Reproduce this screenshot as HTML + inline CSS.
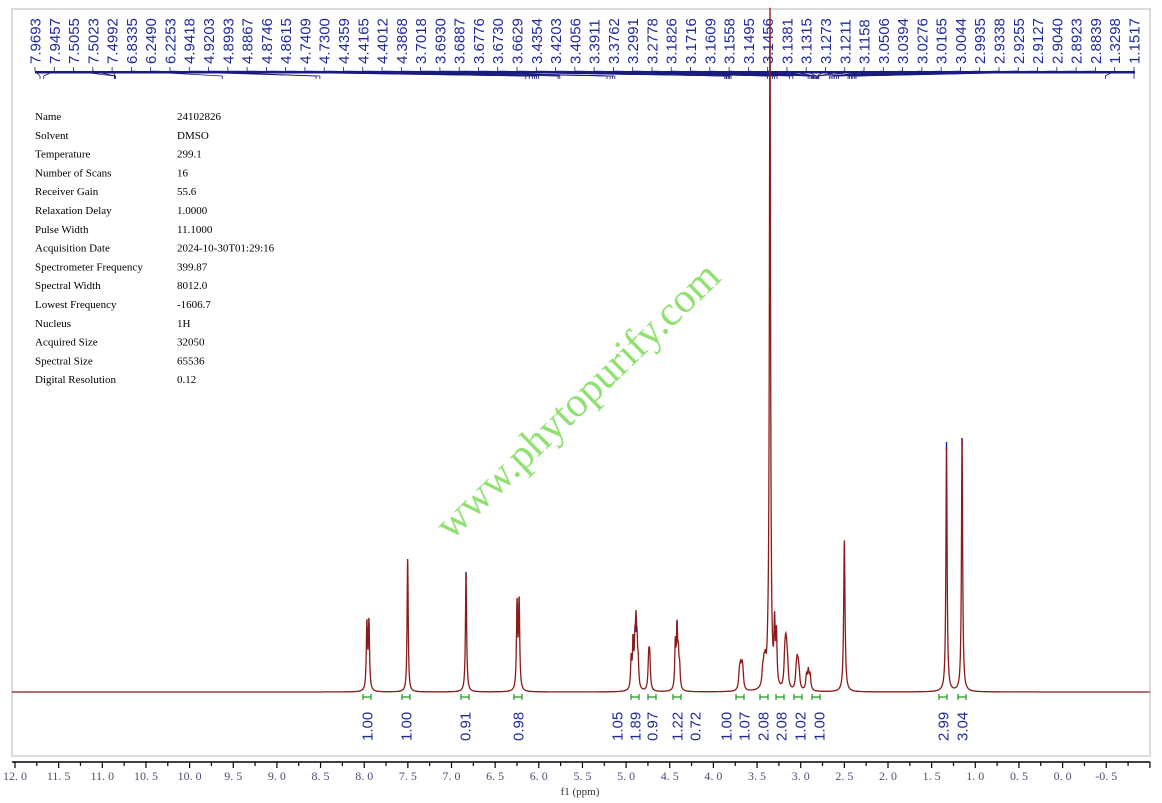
<!DOCTYPE html>
<html><head><meta charset="utf-8"><style>
html,body{margin:0;padding:0;background:#fff;width:1162px;height:803px;overflow:hidden}
svg{display:block}
.info{font-family:"Liberation Serif","Noto Serif CJK SC",serif;font-size:11px;fill:#000}
</style></head><body>
<svg id="s" width="1162" height="803" xmlns="http://www.w3.org/2000/svg">
<rect x="12" y="9" width="1138" height="747" fill="#fff" stroke="#cfcfcf" stroke-width="1.5"/>
<g id="info" class="info"></g>
<text x="0" y="0" transform="translate(587,410) rotate(-44)" text-anchor="middle" font-family="Liberation Serif,serif" font-size="42" fill="#7ddc5a" opacity="0.85">www.phytopurify.com</text>
<g id="top"></g>
<path id="spec" fill="none" stroke="#8b1a1a" stroke-width="1.3"/>
<g id="integ"></g>
<g id="axis"></g>
</svg>
<script>
const NS="http://www.w3.org/2000/svg";
function el(t,a,p,txt){const e=document.createElementNS(NS,t);for(const k in a)e.setAttribute(k,a[k]);if(txt!==undefined)e.textContent=txt;p.appendChild(e);return e;}
const X=p=>15+(12-p)*87.3;
const info=[["Name","24102826"],["Solvent","DMSO"],["Temperature","299.1"],["Number of Scans","16"],["Receiver Gain","55.6"],["Relaxation Delay","1.0000"],["Pulse Width","11.1000"],["Acquisition Date","2024-10-30T01:29:16"],["Spectrometer Frequency","399.87"],["Spectral Width","8012.0"],["Lowest Frequency","-1606.7"],["Nucleus","1H"],["Acquired Size","32050"],["Spectral Size","65536"],["Digital Resolution","0.12"]];
const gi=document.getElementById('info');
info.forEach((r,i)=>{const y=120+i*18.8;el('text',{x:35,y:y},gi,r[0]);el('text',{x:177,y:y},gi,r[1]);});
const labs="7.9693 7.9457 7.5055 7.5023 7.4992 6.8335 6.2490 6.2253 4.9418 4.9203 4.8993 4.8867 4.8746 4.8615 4.7409 4.7300 4.4359 4.4165 4.4012 4.3868 3.7018 3.6930 3.6887 3.6776 3.6730 3.6629 3.4354 3.4203 3.4056 3.3911 3.3762 3.2991 3.2778 3.1826 3.1716 3.1609 3.1558 3.1495 3.1456 3.1381 3.1315 3.1273 3.1211 3.1158 3.0506 3.0394 3.0276 3.0165 3.0044 2.9935 2.9338 2.9255 2.9127 2.9040 2.8923 2.8839 1.3298 1.1517".split(" ");
const gt=document.getElementById('top');
labs.forEach((l,i)=>{const x=35+i*19.28;
 el('text',{x:0,y:0,transform:`translate(${x+5.5},64) rotate(-90)`,'font-family':'Liberation Sans,sans-serif','font-size':'15',fill:'#1f2a9a'},gt,l);
 const px=40+(X(parseFloat(l))-X(7.9693))/(X(1.1517)-X(7.9693))*(1134-40);
 el('path',{d:`M${x} 67 L${x} 71 L${px} 76 L${px} 79`,stroke:'#1a1a80','stroke-width':'0.8',fill:'none'},gt);
});
el('rect',{x:35,y:71,width:1100,height:2.5,fill:'#1a1a80'},gt);
const pk=[[7.9693,66,.7],[7.9457,68,.7],[7.5055,30,.6],[7.5023,84,.6],[7.4992,30,.6],[6.8335,118,.7],[6.2490,86,.7],[6.2253,88,.7],
[4.9418,30,.7],[4.9203,45,.7],[4.8993,38,.7],[4.8867,55,.7],[4.8746,35,.7],[4.8615,22,.7],[4.7409,30,.8],[4.7300,30,.8],
[4.4359,45,.7],[4.4165,58,.7],[4.4012,30,.7],[4.3868,20,.7],[3.7018,16,.9],[3.6887,18,.9],[3.6730,17,.9],[3.6629,14,.9],
[3.4354,14,.9],[3.4203,18,.9],[3.4056,18,.9],[3.3762,12,.9],[3.352,680,0.7],[3.2991,58,.7],[3.2778,50,.7],
[3.1826,26,.9],[3.1716,30,.9],[3.1609,24,.9],[3.1495,16,.9],[3.0506,16,.9],[3.0394,20,.9],[3.0276,16,.9],
[3.0165,10,.9],[2.9338,14,.9],[2.9127,18,.9],[2.8923,14,.9],[2.50,152,.8],[1.3298,248,.7],[1.1517,254,.7]];
let d="";
for(let x=12;x<=1150;x+=0.2){let y=0;for(const [p,h,g] of pk){const dx=x-X(p);y+=h*g*g/(dx*dx+g*g);}
 d+=(x==12?"M":"L")+x.toFixed(2)+" "+(692-Math.min(y,690)).toFixed(1);}
document.getElementById('spec').setAttribute('d',d);
[[7.9693,626],[7.9457,624],[7.5023,605],[6.8335,572],[6.2490,604],[6.2253,602],[4.9203,634],[4.8867,624],[4.4165,621],[1.3298,442],[1.1517,438],[3.2991,628]].forEach(([p,y])=>el('line',{x1:X(p),x2:X(p),y1:y,y2:y+8,stroke:'#1a2aa0','stroke-width':'1.5'},gt));
const ints=[[367,"1.00"],[406,"1.00"],[465,"0.91"],[518,"0.98"],[617,"1.05"],[635,"1.89"],[652,"0.97"],[677,"1.22"],[695,"0.72"],[726,"1.00"],[744,"1.07"],[763,"2.08"],[781,"2.08"],[800,"1.02"],[819,"1.00"],[943,"2.99"],[962,"3.04"]];
const gI=document.getElementById('integ');
[367,406,465,518,635,652,677,740,764,780,798,816,943,962].forEach(x=>{el('path',{d:`M${x-4} 694 v6 M${x+4} 694 v6 M${x-4} 697 H${x+4}`,stroke:'#1a9a1a','stroke-width':'1.2',fill:'none'},gI);});
ints.forEach(([x,t])=>{el('text',{x:0,y:0,transform:`translate(${x+5.5},741) rotate(-90)`,'font-family':'Liberation Sans,sans-serif','font-size':'15',fill:'#1f2a9a'},gI,t);});
const ga=document.getElementById('axis');
el('line',{x1:12,x2:1150,y1:762,y2:762,stroke:'#000','stroke-width':'1.5'},ga);
for(let i=0;i<=60;i++){const p=12-i*0.25;const x=X(p);if(x>1150)continue;const maj=i%2==0;
 el('line',{x1:x,x2:x,y1:762,y2:maj?768:766,stroke:'#000','stroke-width':'1.2'},ga);
 if(maj&&p>-0.6){el('text',{x:x,y:780,'text-anchor':'middle','font-family':'Liberation Serif,serif','font-size':'12',fill:'#4a4f78'},ga,(Math.abs(p)<0.01?0:p).toFixed(1).replace('.','. '));}}
el('text',{x:580,y:795,'text-anchor':'middle','font-family':'Liberation Serif,serif','font-size':'11',fill:'#333'},ga,"f1 (ppm)");
</script>
</body></html>
